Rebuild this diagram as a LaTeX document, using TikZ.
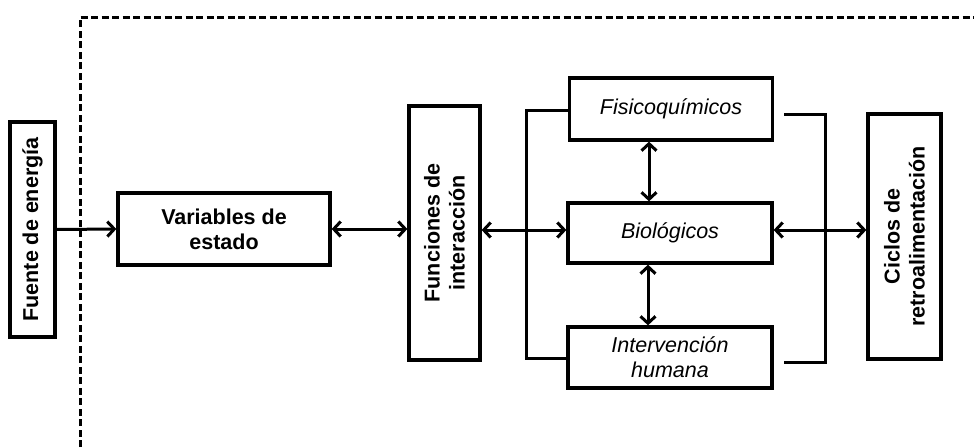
\documentclass[tikz,border=0pt]{standalone}
\usepackage{fontspec}
\setmainfont{Liberation Sans}
\usetikzlibrary{arrows.meta}
\begin{document}
\begin{tikzpicture}[x=1pt,y=-1pt,
  box/.style={draw, line width=3.3pt, inner sep=0pt, align=center,
    font=\fontsize{21.5}{25}\selectfont},
  bbox/.style={box, font=\fontsize{21.5}{25}\selectfont\bfseries},
  ibox/.style={box, font=\fontsize{21.5}{25}\selectfont\itshape},
  rtext/.style={font=\fontsize{21.5}{25}\selectfont\bfseries, rotate=90, align=center},
  conn/.style={line width=3pt},
  tip/.style={Straight Barb[length=7pt,width=15pt,line width=3pt]},
  arr/.style={conn, {Straight Barb[length=7pt,width=15pt,line width=3pt]}-{Straight Barb[length=7pt,width=15pt,line width=3pt]}},
  arr1/.style={conn, -{Straight Barb[length=7pt,width=15pt,line width=3pt]}}]
\useasboundingbox (0,0) rectangle (974,447);
\draw[line width=3pt, dash pattern=on 7pt off 3.5pt] (80,447) -- (80,17) -- (974,17);

\node[bbox, minimum width=45, minimum height=215] (fue) at (32.5,229.5) {};
\node[rtext] (fuet) at (fue.center) {Fuente de energía};
\node[bbox, minimum width=212, minimum height=72] (var) at (224,229) {Variables de\\estado};
\node[bbox, minimum width=71, minimum height=254] (fun) at (444.5,233) {};
\node[rtext] (funt) at (fun.center) {Funciones de\\interacción};
\node[ibox, minimum width=203, minimum height=62] (fis) at (671,109) {Fisicoquímicos};
\node[ibox, minimum width=204, minimum height=60] (bio) at (670,233) {Biológicos};
\node[ibox, minimum width=204, minimum height=61] (int) at (670,357.5) {Intervención\\humana};
\node[bbox, minimum width=73, minimum height=245] (cic) at (904.5,236.5) {};
\node[rtext] (cict) at (cic.center) {Ciclos de\\retroalimentación};

\draw[arr1] (fue.east) -- (var.west);
\draw[arr] (var.east) -- (var.east -| fun.west);
\draw[arr] ([yshift=3pt]fun.east) -- ([yshift=3pt]fun.east -| bio.west);
\draw[arr] ([shift={(0,-3)}]bio.east) -- ([shift={(0,-3)}]bio.east -| cic.west);
\draw[arr] ([xshift=-22pt]fis.south) -- ([xshift=-22pt]fis.south |- bio.north);
\draw[arr] ([xshift=-22pt]bio.south) -- ([xshift=-22pt]bio.south |- int.north);
\draw[conn] ([shift={(0,1)}]fis.west) -- ++(-41,0) |- ([shift={(0,0.5)}]int.west);
\draw[conn] ([shift={(10,5)}]fis.east) -- ++(41,0) |- ([shift={(10,4.5)}]int.east);
\end{tikzpicture}
\end{document}
